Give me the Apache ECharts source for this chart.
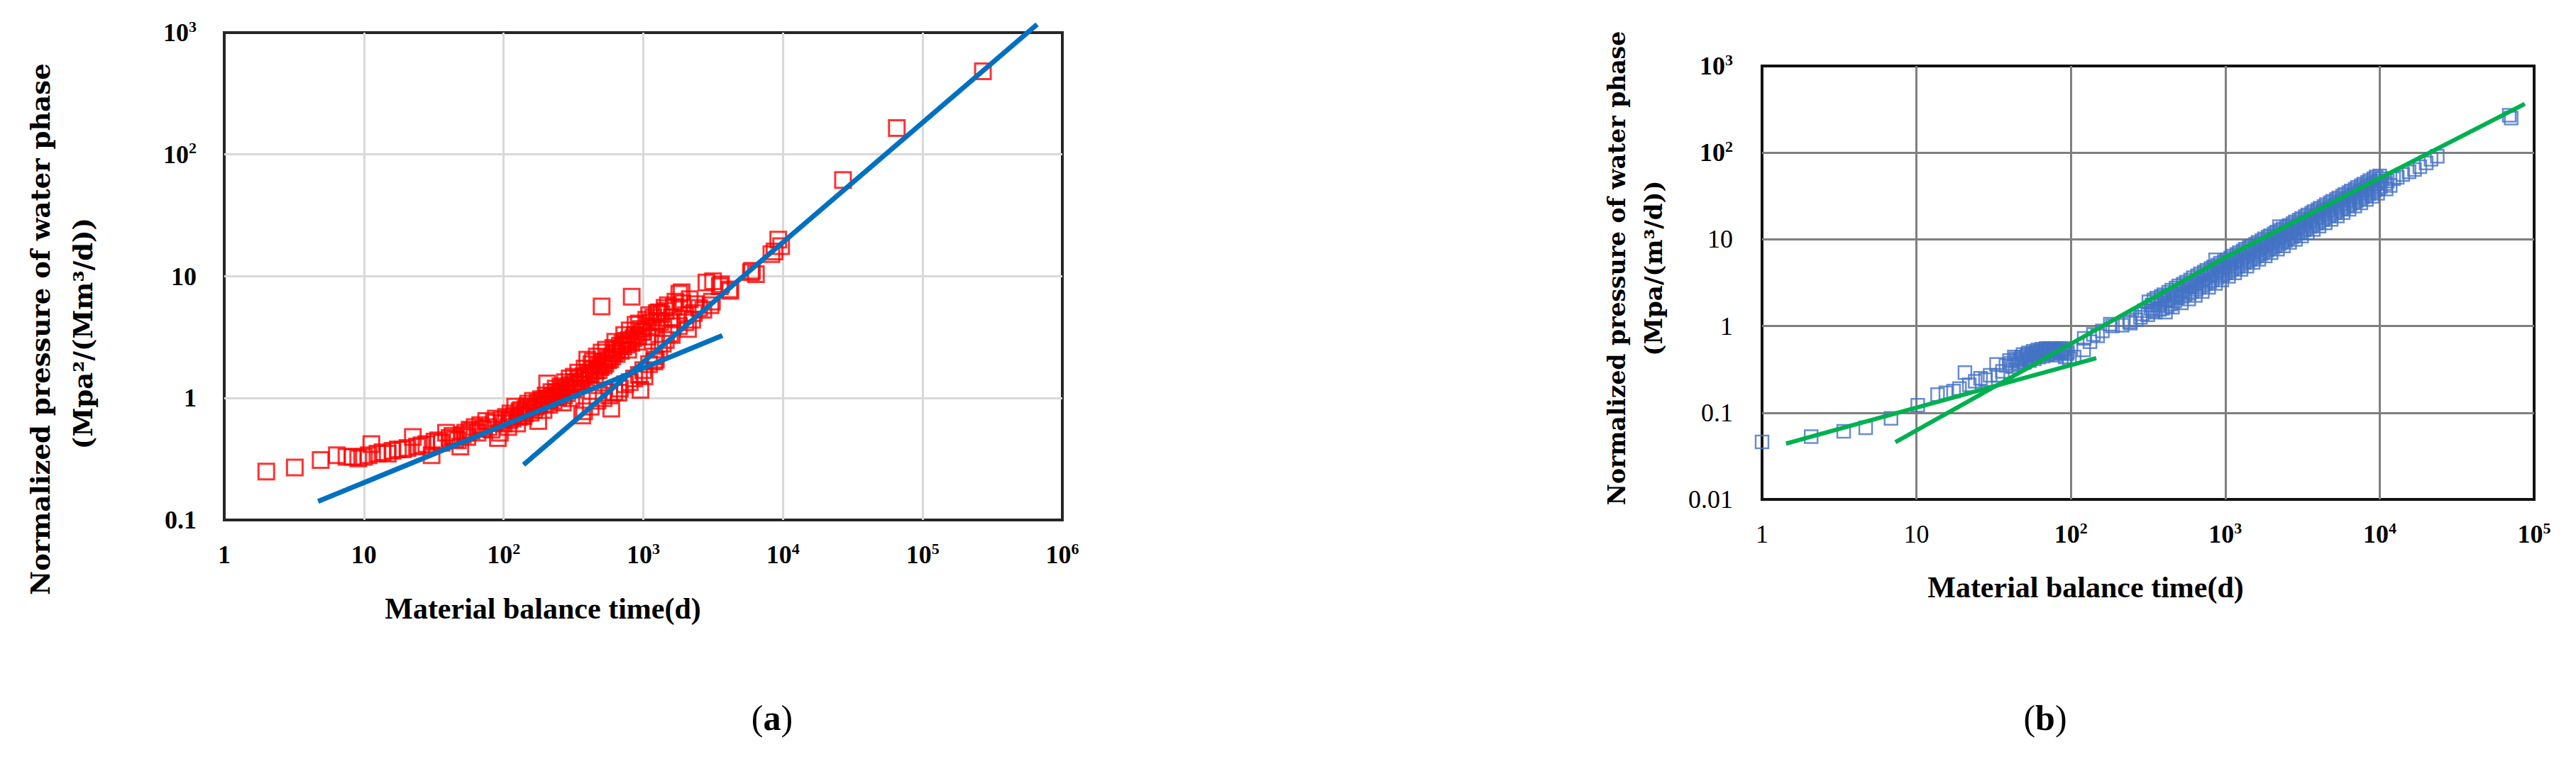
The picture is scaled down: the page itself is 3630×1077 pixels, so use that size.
<!DOCTYPE html>
<html>
<head>
<meta charset="utf-8">
<title>Normalized pressure of water phase vs material balance time</title>
<script src="https://cdn.jsdelivr.net/npm/echarts@6.0.0/dist/echarts.min.js"></script>
<style>
  html, body { margin: 0; padding: 0; background: #fff; }
  #chart { width: 3630px; height: 1077px; }
</style>
</head>
<body>
<div id="chart"></div>
<script>
// ---- tick labels ('^' marks a power of ten) ----
const aXTicks = ['1', '10', '10^2', '10^3', '10^4', '10^5', '10^6'];
const aYTicks = ['0.1', '1', '10', '10^2', '10^3'];
const bXTicks = ['1', '10', '10^2', '10^3', '10^4', '10^5'];
const bYTicks = ['0.01', '0.1', '1', '10', '10^2', '10^3'];

// ---- panel (a): measured points [time, pressure] ----
const aPoints = [
  [2.0, 0.25], [3.2, 0.27], [4.9, 0.31], [6.4, 0.34], [7.5, 0.33], [8.3, 0.33], [9.1, 0.32], [10, 0.33],
  [10.8, 0.34], [11.3, 0.42], [12.5, 0.35], [13.6, 0.36], [14.8, 0.35], [16, 0.37], [17.5, 0.38], [19, 0.38],
  [20.5, 0.39], [22.4, 0.48], [24, 0.40], [25.8, 0.41], [28, 0.42], [30.5, 0.34], [32, 0.44], [34, 0.45],
  [36, 0.43], [38.7, 0.52], [41, 0.47], [43, 0.49], [45, 0.46], [47, 0.45], [49, 0.40], [51, 0.50],
  [53, 0.52], [55, 0.48], [57, 0.55], [59, 0.54], [62, 0.58], [65, 0.52], [68, 0.60], [71, 0.56],
  [75, 0.65], [78, 0.58], [82, 0.55], [85, 0.63], [88, 0.68], [91, 0.47], [94, 0.52], [97, 0.66],
  [100, 0.62], [104, 0.70], [108, 0.58], [110, 0.66], [112, 0.75], [116, 0.68], [118, 0.72], [121, 0.85],
  [125, 0.62], [128, 0.70], [130, 0.78], [133, 0.80], [135, 0.72], [139, 0.71], [142, 0.75], [144, 0.82],
  [148, 0.86], [150, 0.90], [156, 0.76], [158, 0.84], [162, 0.95], [165, 0.80], [170, 0.85], [175, 0.92],
  [177, 0.65], [180, 0.88], [185, 0.98], [190, 0.95], [193, 0.80], [198, 0.90], [200, 1.05], [205, 1.32],
  [208, 1.00], [212, 0.88], [215, 0.98], [220, 1.12], [225, 1.05], [228, 0.95], [232, 1.02], [236, 1.20],
  [242, 1.12], [246, 1.01], [250, 1.08], [255, 1.25], [260, 1.15], [265, 0.92], [270, 1.05], [275, 1.35],
  [280, 1.22], [285, 1.10], [290, 1.18], [297, 1.45], [300, 1.28], [305, 1.00], [312, 1.22], [318, 1.50],
  [325, 1.35], [330, 1.18], [338, 1.30], [342, 1.62], [350, 1.45], [355, 1.28], [362, 1.38], [365, 0.72],
  [375, 1.52], [377, 0.78], [380, 1.75], [390, 1.48], [397, 2.07], [405, 1.62], [410, 1.40], [420, 1.58],
  [420, 0.85], [425, 1.90], [436, 2.00], [440, 1.72], [450, 1.55], [460, 1.68], [465, 2.20], [470, 0.95],
  [475, 1.85], [480, 1.70], [495, 1.80], [503, 5.66], [503, 2.37], [515, 1.98], [520, 1.85], [520, 1.00],
  [535, 1.92], [540, 2.50], [555, 2.15], [560, 2.05], [570, 1.05], [580, 2.08], [590, 0.82], [600, 2.20],
  [610, 2.58], [620, 2.35], [620, 1.12], [630, 2.90], [645, 2.30], [650, 2.50], [664, 1.11], [680, 2.70],
  [680, 1.20], [690, 2.45], [710, 2.80], [720, 2.65], [730, 3.30], [740, 1.30], [751, 2.95], [760, 2.75],
  [780, 2.50], [790, 3.00], [800, 3.60], [800, 1.35], [820, 2.85], [826, 6.80], [850, 3.10], [860, 1.45],
  [870, 3.30], [880, 4.00], [900, 2.90], [920, 3.20], [930, 4.10], [930, 1.55], [954, 1.17], [960, 3.70],
  [980, 3.50], [1000, 3.50], [1000, 1.70], [1020, 1.51], [1050, 4.40], [1070, 3.20], [1080, 3.90], [1100, 4.80],
  [1100, 1.90], [1130, 4.20], [1150, 3.80], [1180, 4.60], [1200, 2.00], [1200, 2.20], [1230, 2.07], [1250, 5.00],
  [1260, 4.30], [1290, 5.07], [1300, 2.50], [1320, 4.20], [1350, 4.90], [1380, 2.80], [1420, 5.50], [1450, 5.20],
  [1450, 3.00], [1500, 5.80], [1550, 3.40], [1600, 4.60], [1600, 3.30], [1650, 5.60], [1700, 6.20], [1800, 3.90],
  [1810, 7.20], [1880, 7.40], [1900, 6.00], [2000, 4.80], [2000, 4.20], [2090, 3.70], [2150, 6.50], [2240, 4.40],
  [2300, 5.00], [2350, 5.90], [2510, 5.50], [2690, 5.30], [2830, 8.90], [3030, 5.80], [3100, 6.20], [3160, 9.10],
  [3530, 8.30], [3600, 8.60], [4130, 7.80], [4200, 7.60], [5900, 10.8], [6000, 11.1], [6400, 10.4], [8260, 15.2],
  [8700, 16.0], [9250, 20.0], [9700, 17.7], [26900, 61.7], [65300, 165], [270000, 481]
];
// fitted straight lines in panel (a), end points
const aFitEarly = [[4.7, 0.142], [3680, 3.26]];
const aFitLate = [[139, 0.284], [660000, 1170]];

// ---- panel (b): measured points [time, pressure] ----
const bPoints = [
  [1, 0.046], [2.08, 0.053], [3.38, 0.061], [4.69, 0.067], [6.84, 0.086], [10.2, 0.122], [13.7, 0.162], [15.5, 0.17],
  [17.4, 0.178], [19, 0.19], [20.6, 0.29], [22, 0.21], [24, 0.23], [26, 0.25], [28, 0.24], [30, 0.27],
  [33, 0.36], [33.7, 0.27], [36, 0.30], [38, 0.35], [40, 0.40], [42, 0.34], [44, 0.42], [46, 0.36],
  [48, 0.44], [50, 0.38], [52, 0.46], [54, 0.40], [56, 0.48], [58, 0.42], [60, 0.50], [62, 0.44],
  [64, 0.51], [66, 0.45], [68, 0.52], [70, 0.47], [72, 0.53], [75, 0.48], [78, 0.53], [80, 0.46],
  [83, 0.52], [86, 0.49], [89, 0.53], [92, 0.44], [95, 0.50], [98, 0.42],
  [41, 0.37], [43, 0.44], [45, 0.39], [47, 0.41], [49, 0.47], [51, 0.42], [53, 0.49], [55, 0.44],
  [57, 0.51], [59, 0.46], [61, 0.53], [63, 0.48], [65, 0.54], [67, 0.49], [69, 0.55], [71, 0.51],
  [73, 0.55], [76, 0.51], [79, 0.55], [82, 0.50], [85, 0.55], [88, 0.51], [91, 0.55], [94, 0.48],
  [105, 0.44], [121, 0.53], [122, 0.72], [133, 0.66], [140, 0.80], [149, 0.77], [160, 0.88], [180, 1.05],
  [186, 1.00], [215, 1.02], [240, 1.12], [243, 1.08], [265, 1.18], [282, 1.26], [290, 1.38], [300, 1.50],
  [320, 1.9], [330, 1.6], [315, 1.35], [335, 1.75], [340, 1.5], [345, 2.0],
  [360, 2.1], [368, 1.75], [352, 1.45], [380, 1.85], [385, 2.2], [375, 1.55],
  [400, 2.3], [408, 1.95], [392, 1.6], [425, 2.05], [430, 2.45], [420, 1.7],
  [450, 2.6], [458, 2.2], [442, 1.8], [475, 2.35], [480, 2.75], [470, 1.95],
  [500, 2.9], [510, 2.5], [490, 2.1], [530, 2.65], [535, 3.05], [525, 2.2],
  [560, 3.2], [570, 2.8], [548, 2.3], [590, 2.95], [596, 3.4], [584, 2.4],
  [620, 3.6], [632, 3.1], [608, 2.5], [655, 3.3], [661, 3.8], [648, 2.65],
  [690, 4.0], [702, 3.4], [676, 2.8], [725, 3.6], [732, 4.2], [718, 2.95],
  [760, 4.4], [775, 3.8], [745, 3.1], [800, 4.0], [808, 4.6], [792, 3.25],
  [840, 4.8], [855, 4.2], [822, 3.4], [865, 5.8], [885, 4.4], [893, 5.05], [877, 3.6],
  [930, 5.3], [948, 4.6], [912, 3.8], [975, 4.85], [985, 5.55], [965, 3.95],
  [1020, 5.8], [1040, 5.0], [1000, 4.1], [1070, 5.25], [1082, 6.1], [1060, 4.3],
  [1120, 6.4], [1142, 5.5], [1098, 4.5], [1175, 5.75], [1188, 6.7], [1162, 4.7],
  [1230, 7.0], [1255, 6.0], [1205, 4.9], [1290, 6.3], [1305, 7.35], [1275, 5.15],
  [1350, 7.7], [1378, 6.6], [1322, 5.4], [1415, 6.9], [1430, 8.0], [1400, 5.65],
  [1480, 8.4], [1510, 7.2], [1450, 5.9], [1555, 7.55], [1572, 8.8], [1538, 6.2],
  [1630, 9.2], [1662, 7.9], [1598, 6.5], [1710, 8.3], [1728, 9.65], [1692, 6.8],
  [1790, 10.1], [1826, 8.7], [1754, 7.1], [1875, 9.1], [1895, 10.6], [1855, 7.45],
  [1960, 11.0], [2000, 9.5], [1920, 7.8], [2055, 9.95], [2077, 11.6], [2033, 8.15],
  [2150, 12.1], [2193, 10.4], [2107, 8.5], [2240, 14], [2255, 10.9], [2280, 12.7], [2230, 8.9],
  [2360, 13.2], [2407, 11.4], [2313, 9.3], [2475, 12.0], [2500, 13.9], [2450, 9.75],
  [2590, 14.5], [2642, 12.5], [2538, 10.2], [2715, 13.1], [2745, 15.2], [2685, 10.7],
  [2840, 15.9], [2897, 13.7], [2783, 11.2], [2980, 14.4], [3010, 16.7], [2950, 11.8],
  [3120, 17.4], [3182, 15.0], [3058, 12.3], [3270, 15.7], [3305, 18.3], [3235, 12.9],
  [3420, 19.1], [3488, 16.4], [3352, 13.4], [3585, 17.2], [3625, 20.0], [3545, 14.1],
  [3750, 20.9], [3825, 18.0], [3675, 14.7], [3930, 18.9], [3975, 21.9], [3885, 15.4],
  [4110, 22.9], [4192, 19.7], [4028, 16.1], [4310, 20.7], [4360, 24.0], [4260, 16.9],
  [4510, 25.1], [4600, 21.6], [4420, 17.7], [4730, 22.6], [4785, 26.3], [4675, 18.5],
  [4950, 27.5], [5049, 23.7], [4851, 19.4], [5190, 24.8], [5250, 28.8], [5130, 20.3],
  [5430, 30.1], [5539, 26.0], [5321, 21.3], [5695, 27.2], [5760, 31.6], [5630, 22.3],
  [5960, 33.0], [6079, 28.5], [5841, 23.3], [6250, 29.8], [6320, 34.6], [6180, 24.4],
  [6540, 36.2], [6671, 31.2], [6409, 25.6], [6855, 32.7], [6930, 37.9], [6780, 26.8],
  [7170, 39.7], [7313, 34.2], [7027, 28.0], [7520, 35.8], [7600, 41.5], [7440, 29.3],
  [7870, 43.5], [8027, 37.5], [7713, 30.7], [8250, 39.2], [8340, 45.5], [8160, 32.1],
  [8630, 47.7], [8803, 41.1], [8457, 33.7], [9050, 43.0], [9150, 49.9], [8950, 35.2],
  [9470, 52.3], [9659, 45.1], [9281, 36.9], [9900, 47.0], [10000, 54.0], [9800, 38.5],
  [10400, 50], [10100, 40.5], [10900, 44], [11200, 47], [11700, 41.7], [12300, 50],
  [13000, 52], [14100, 56], [15500, 60], [16800, 64], [18200, 69], [20000, 76],
  [21500, 84], [23600, 91], [69000, 270], [71000, 250],
  // lower side of the dense band
  [410, 1.45], [455, 1.65], [520, 1.85], [580, 2.05], [640, 2.25], [710, 2.5], [780, 2.8], [865, 3.1],
  [950, 3.4], [1050, 3.75], [1150, 4.1], [1265, 4.5], [1380, 4.9], [1515, 5.4], [1650, 5.9], [1815, 6.45],
  [1980, 7.0], [2180, 7.7], [2380, 8.4], [2610, 9.2], [2850, 10.0], [3120, 10.9], [3400, 11.9], [3720, 13.0],
  [4050, 14.2], [4440, 15.5], [4850, 17.0], [5320, 18.6], [5800, 20.3], [6340, 22.2], [6900, 24.2], [7550, 26.4],
  [8200, 28.8], [8950, 31.3], [9700, 34.0], [11000, 38]
];
// fitted straight lines in panel (b), end points
const bFitEarly = [[1.43, 0.044], [146, 0.426]];
const bFitLate = [[7.3, 0.0457], [1000, 6.2], [87000, 366]];

const SERIF = '"Liberation Serif", "Times New Roman", serif';
const WIDE_SERIF = '"DejaVu Serif", serif';

function tickFormatter(ticks) {
  const minExp = Math.round(Math.log10(Number(ticks[0].replace('^', 'e'))));
  return function (v) {
    const s = ticks[Math.round(Math.log10(v)) - minExp];
    if (s === undefined) return '';
    const parts = s.split('^');
    if (parts.length > 1) return '{p|' + parts[0] + '}{s|' + parts[1] + '}';
    return '{n|' + s + '}';
  };
}

function richStyles(plainWeight) {
  return {
    n: { fontFamily: SERIF, fontSize: 36, fontWeight: plainWeight, color: '#000', lineHeight: 40 },
    p: { fontFamily: SERIF, fontSize: 36, fontWeight: 'bold', color: '#000', lineHeight: 40 },
    s: { fontFamily: SERIF, fontSize: 22, fontWeight: 'bold', color: '#000', lineHeight: 22, verticalAlign: 'top' }
  };
}

function logAxis(gridIndex, min, max, ticks, gridColor, margin, plainWeight) {
  return {
    type: 'log',
    logBase: 10,
    gridIndex: gridIndex,
    min: min,
    max: max,
    axisLine: { show: false },
    axisTick: { show: false },
    axisLabel: {
      margin: margin,
      formatter: tickFormatter(ticks),
      rich: richStyles(plainWeight)
    },
    splitLine: {
      show: true,
      showMinLine: false,
      showMaxLine: false,
      lineStyle: { color: gridColor, width: 3 }
    }
  };
}

function squares(xi, data, color, size, width) {
  return {
    type: 'scatter',
    xAxisIndex: xi,
    yAxisIndex: xi,
    data: data,
    symbol: 'rect',
    symbolSize: size,
    silent: true,
    itemStyle: { color: 'rgba(255,255,255,0)', borderColor: color, borderWidth: width }
  };
}

function fitLine(xi, data, color, width) {
  return {
    type: 'line',
    xAxisIndex: xi,
    yAxisIndex: xi,
    data: data,
    symbol: 'none',
    showSymbol: false,
    silent: true,
    clip: false,
    z: 3,
    lineStyle: { color: color, width: width }
  };
}

function label(text, x, y, size, family, rotate) {
  return {
    type: 'text',
    x: x,
    y: y,
    rotation: rotate ? Math.PI / 2 : 0,
    silent: true,
    style: {
      text: text,
      fontFamily: family,
      fontSize: size,
      fontWeight: 'bold',
      fill: '#000',
      align: 'center',
      verticalAlign: 'middle',
      textAlign: 'center',
      textVerticalAlign: 'middle'
    }
  };
}

function panelTag(letter, x, y) {
  return {
    type: 'text', x: x, y: y, silent: true,
    style: {
      text: '{r|(}{b|' + letter + '}{r|)}', align: 'center', verticalAlign: 'middle',
      textAlign: 'center', textVerticalAlign: 'middle',
      rich: {
        r: { fontFamily: SERIF, fontSize: 50, color: '#000' },
        b: { fontFamily: SERIF, fontSize: 50, fontWeight: 'bold', color: '#000' }
      }
    }
  };
}

const chart = echarts.init(document.getElementById('chart'), null, { renderer: 'svg' });

chart.setOption({
  animation: false,
  backgroundColor: '#fff',
  grid: [
    { left: 316, top: 46, width: 1181, height: 687, show: true, borderColor: '#262626', borderWidth: 4,
      backgroundColor: 'transparent', outerBoundsMode: 'none' },
    { left: 2483, top: 93, width: 1088, height: 611, show: true, borderColor: '#111', borderWidth: 4,
      backgroundColor: 'transparent', outerBoundsMode: 'none' }
  ],
  xAxis: [
    logAxis(0, 1, 1e6, aXTicks, '#d9d9d9', 29, 'bold'),
    logAxis(1, 1, 1e5, bXTicks, '#7f7f7f', 29, 'normal')
  ],
  yAxis: [
    logAxis(0, 0.1, 1000, aYTicks, '#d9d9d9', 39, 'bold'),
    logAxis(1, 0.01, 1000, bYTicks, '#7f7f7f', 41, 'normal')
  ],
  series: [
    squares(0, aPoints, '#ff0000', 22, 3),
    fitLine(0, aFitEarly, '#0070c0', 7),
    fitLine(0, aFitLate, '#0070c0', 7),
    squares(1, bPoints, '#4472c4', 18, 2.5),
    fitLine(1, bFitEarly, '#00b050', 6),
    fitLine(1, bFitLate, '#00b050', 6)
  ],
  graphic: [
    label('Normalized pressure of water phase', 57, 464, 37, WIDE_SERIF, true),
    label('(Mpa\u00b2/(Mm\u00b3/d))', 117, 470, 37, WIDE_SERIF, true),
    label('Material balance time(d)', 765, 858, 42, SERIF, false),
    label('Normalized pressure of water phase', 2278, 378, 33, WIDE_SERIF, true),
    label('(Mpa/(m\u00b3/d))', 2330, 378, 34, WIDE_SERIF, true),
    label('Material balance time(d)', 2939, 828, 42, SERIF, false),
    panelTag('a', 1088, 1012),
    panelTag('b', 2882, 1012)
  ]
});
</script>
</body>
</html>
